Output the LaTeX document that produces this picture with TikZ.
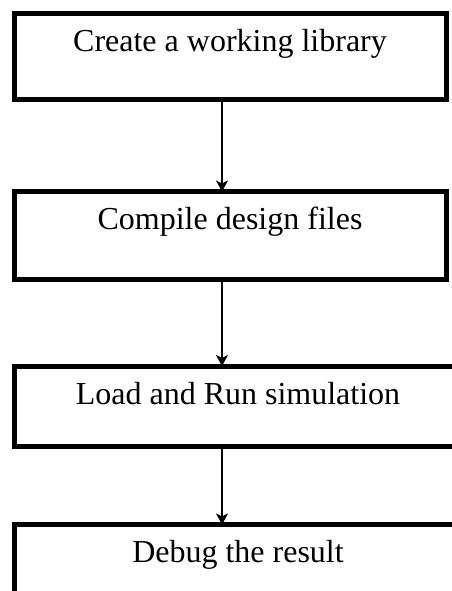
\documentclass[tikz,border=0pt]{standalone}
\usepackage{fontspec}
\setmainfont{Liberation Serif}
\usetikzlibrary{arrows.meta, positioning}
\tikzset{
    stepbox/.style args={#1 #2}{
        draw, line width=5pt, rectangle, outer sep=0pt,
        inner xsep=0pt, inner ysep=0pt,
        minimum width=#1, text height=38pt, text depth=#2,
        anchor=north west, font=\fontsize{32}{36}\selectfont
    },
    flowarrow/.style={
        line width=1.3pt, -{Stealth[length=11pt, width=12pt, inset=3pt]}
    }
}

\begin{document}
\begin{tikzpicture}[x=1pt, y=-1pt]
    \def \shift {-8pt}
    \useasboundingbox (0,0) rectangle (451,591);
    \coordinate (c1) at (14, 14);
    \coordinate (c2) at (14, 191.5);
    \coordinate (c3) at (14, 366);
    \coordinate (c4) at (14, 524.5);
    \node[stepbox={432pt 48pt}] (create) at (c1) {Create a working library};
    \node[stepbox={432pt 50pt}] (compile) at (c2) {Compile design files};
    \node[stepbox={448pt 42pt}] (load) at (c3) {Load and Run simulation};
    \node[stepbox={448pt 48pt}] (debug) at (c4) {Debug the result};
    \draw[flowarrow] ([xshift=\shift]create.south) -- ([xshift=\shift]compile.north);
    \draw[flowarrow] ([xshift=\shift]compile.south) -- ([xshift=\shift]compile.south |- load.north);
    \draw[flowarrow] ([xshift=\shift]compile.south |- load.south) -- ([xshift=\shift]compile.south |- debug.north);
\end{tikzpicture}
\end{document}
